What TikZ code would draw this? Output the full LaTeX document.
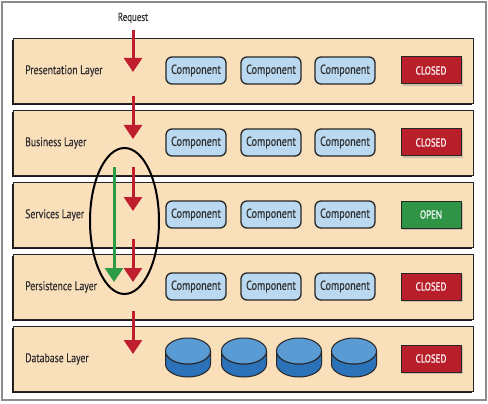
\documentclass[tikz,border=0pt]{standalone}
\usepackage{fontspec}
\setmainfont{PT Sans}[FakeStretch=0.78, FakeBold=0.35]
\usetikzlibrary{arrows.meta,shapes.geometric,shadows}
\definecolor{layerfill}{HTML}{FADFBB}
\definecolor{compfill}{HTML}{BAD8EF}
\definecolor{closedred}{HTML}{B81F2B}
\definecolor{opengreen}{HTML}{2F9446}
\definecolor{arrred}{HTML}{BE1E2D}
\definecolor{arrgreen}{HTML}{2E9B47}
\definecolor{txtgray}{HTML}{2E2E2E}
\definecolor{dbtop}{HTML}{5A9BD4}
\definecolor{dbside}{HTML}{2C72B8}
\tikzset{
  layerbox/.style={fill=layerfill, draw=black!85, line width=0.8pt},
  layershadow/.style={fill=black!90},
  layerlabel/.style={anchor=west, inner sep=0pt, text=txtgray, font=\fontsize{12.5}{13}\selectfont},
  compbox/.style={draw=black!85, line width=1.3pt, fill=compfill, rounded corners=6pt,
    minimum width=60pt, minimum height=27pt, inner sep=0pt, text=txtgray,
    font=\fontsize{13}{14}\selectfont},
  statebox/.style={draw=black!85, line width=1pt, minimum width=60pt, minimum height=27pt,
    inner sep=0pt, text=white, font=\fontsize{11.5}{12}\selectfont,
    drop shadow={shadow xshift=2pt, shadow yshift=-2pt, opacity=0.35}},
  redarrow/.style={draw=arrred, line width=3pt, -{Triangle[width=18pt,length=14pt]}},
  greenarrow/.style={draw=arrgreen, line width=3pt, -{Triangle[width=18pt,length=14pt]}},
}
\begin{document}
\begin{tikzpicture}[x=1pt,y=-1pt]
\useasboundingbox (0,0) rectangle (488,404);
\fill[white] (0,0) rectangle (488,404);
\draw[black!45, line width=1.2pt] (2,2) rectangle (486,400);
% layers
\foreach \i/\name/\lab in {0/pres/Presentation Layer,1/bus/Business Layer,2/serv/Services Layer,3/pers/Persistence Layer,4/db/Database Layer}{
  \pgfmathsetmacro{\t}{38+72*\i}
  \fill[layershadow] (11.5,\t+2) rectangle (471.5,\t+67);
  \draw[layerbox] (13.5,\t) rectangle (473.5,\t+65);
  \node[layerlabel] (\name lab) at (25,\t+33) {\lab};
}
% components
\foreach \i/\name in {0/pres,1/bus,2/serv,3/pers}{
  \pgfmathsetmacro{\c}{38+72*\i+32.5}
  \node[compbox] (\name c1) at (196,\c) {Component};
  \node[compbox] (\name c2) at (271,\c) {Component};
  \node[compbox] (\name c3) at (345,\c) {Component};
}
% state boxes
\node[statebox, fill=closedred] (presst) at (431,70.5) {CLOSED};
\node[statebox, fill=closedred] (busst) at (431,142.5) {CLOSED};
\node[statebox, fill=opengreen] (servst) at (431,214.5) {OPEN};
\node[statebox, fill=closedred] (persst) at (431,286.5) {CLOSED};
\node[statebox, fill=closedred] (dbst) at (431,358.5) {CLOSED};
% databases
\foreach \k/\x in {1/188,2/244,3/299,4/354}{
  \begin{scope}[shift={(\x,351)}]
    \filldraw[fill=dbside, draw=black!85, line width=1pt]
      (-22.5,0) -- (-22.5,13) arc[start angle=180, end angle=360, x radius=22.5pt, y radius=13pt]
      -- (22.5,0) arc[start angle=0, end angle=180, x radius=22.5pt, y radius=-13pt] -- cycle;
    \filldraw[fill=dbtop, draw=black!85, line width=1pt] (0,0) ellipse[x radius=22.5pt, y radius=13pt];
    \node[inner sep=0pt, minimum size=0pt] (db\k) at (0,6) {};
  \end{scope}
}
% request
\node[text=txtgray, font=\fontsize{11.5}{12}\selectfont] (req) at (133,18) {Request};
\coordinate (a1s) at (133,30); \coordinate (a1e) at (133,72);
\coordinate (a2s) at (133,96); \coordinate (a2e) at (133,139);
\coordinate (a3s) at (133,167); \coordinate (a3e) at (133,211);
\coordinate (a4s) at (133,239); \coordinate (a4e) at (133,282);
\coordinate (a5s) at (133,311); \coordinate (a5e) at (133,354);
\coordinate (gs) at (114,167); \coordinate (ge) at (114,282);
\draw[redarrow] (a1s) -- (a1e);
\draw[redarrow] (a2s) -- (a2e);
\draw[redarrow] (a3s) -- (a3e);
\draw[redarrow] (a4s) -- (a4e);
\draw[redarrow] (a5s) -- (a5e);
\draw[greenarrow] (gs) -- (ge);
\node[draw=black, line width=2pt, ellipse, minimum width=69pt, minimum height=146pt, inner sep=0pt] (ell) at (124.5,221) {};
\end{tikzpicture}
\end{document}
